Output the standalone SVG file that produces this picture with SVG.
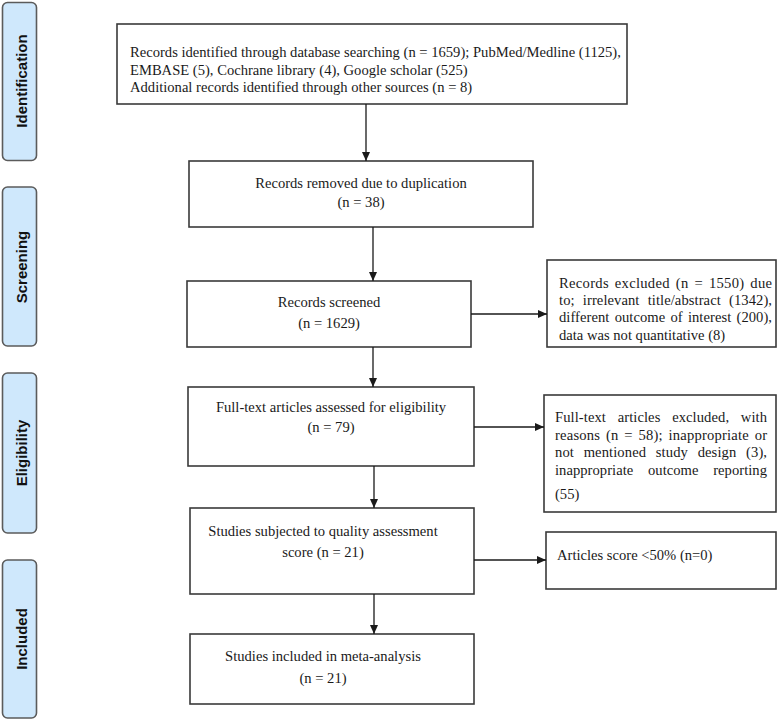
<svg xmlns="http://www.w3.org/2000/svg" width="778" height="722" viewBox="0 0 778 722">
<defs>
<marker id="ah" markerWidth="10" markerHeight="10" refX="9" refY="5" orient="auto" markerUnits="userSpaceOnUse"><path d="M0,1 L9,5 L0,9 Z" fill="#1a1a1a"/></marker>
</defs>
<style>
.tab{fill:#cfe8fc;stroke:#5b5b5b;stroke-width:1.6}
.tabt{font-family:"Liberation Sans",Arial,sans-serif;font-weight:bold;font-size:15px;fill:#111;text-anchor:middle}
.box{fill:#fff;stroke:#3a3a3a;stroke-width:1.6}
.t{font-family:"Liberation Serif","Times New Roman",serif;font-size:14.6px;fill:#1a1a1a}
.c{text-anchor:middle}
.conn line{stroke:#1a1a1a;stroke-width:1.3;marker-end:url(#ah)}
</style>
<rect x="0" y="0" width="778" height="722" fill="#fff"/>

<g id="tab-identification"><rect class="tab" x="2.5" y="2.5" width="34" height="158" rx="5"/><text class="tabt" transform="translate(26.5,81) rotate(-90)">Identification</text></g>
<g id="tab-screening"><rect class="tab" x="2.5" y="187" width="34" height="159" rx="5"/><text class="tabt" transform="translate(26.5,267) rotate(-90)">Screening</text></g>
<g id="tab-eligibility"><rect class="tab" x="2.5" y="373" width="34" height="160" rx="5"/><text class="tabt" transform="translate(26.5,453) rotate(-90)">Eligibility</text></g>
<g id="tab-included"><rect class="tab" x="2.5" y="560" width="34" height="158" rx="5"/><text class="tabt" transform="translate(26.5,639) rotate(-90)">Included</text></g>

<g id="identified"><rect class="box" x="117" y="24" width="510" height="80"/>
<text class="t" x="130" y="57">Records identified through database searching (n = 1659); PubMed/Medline (1125),</text>
<text class="t" x="130" y="75">EMBASE (5), Cochrane library (4), Google scholar (525)</text>
<text class="t" x="130" y="92">Additional records identified through other sources (n = 8)</text></g>

<g id="duplicates"><rect class="box" x="189" y="161" width="344" height="66"/>
<text class="t c" x="361" y="188">Records removed due to duplication</text>
<text class="t c" x="361" y="207">(n = 38)</text></g>

<g id="screened"><rect class="box" x="187" y="281" width="284" height="66"/>
<text class="t c" x="329" y="307">Records screened</text>
<text class="t c" x="329" y="328">(n = 1629)</text></g>

<g id="excluded1"><rect class="box" x="547" y="260" width="229" height="87"/>
<text class="t" x="559" y="288" textLength="213" lengthAdjust="spacing" word-spacing="2">Records excluded (n = 1550) due</text>
<text class="t" x="559" y="305" textLength="213" lengthAdjust="spacing" word-spacing="4.5">to; irrelevant title/abstract (1342),</text>
<text class="t" x="559" y="322" textLength="213" lengthAdjust="spacing" word-spacing="1.5">different outcome of interest (200),</text>
<text class="t" x="559" y="340">data was not quantitative (8)</text></g>

<g id="fulltext"><rect class="box" x="188" y="387" width="286" height="79"/>
<text class="t c" x="331" y="412">Full-text articles assessed for eligibility</text>
<text class="t c" x="331" y="432">(n = 79)</text></g>

<g id="excluded2"><rect class="box" x="544" y="395" width="232" height="117"/>
<text class="t" x="555" y="422" textLength="212" lengthAdjust="spacing" word-spacing="8">Full-text articles excluded, with</text>
<text class="t" x="555" y="439.5" textLength="212" lengthAdjust="spacing" word-spacing="2">reasons (n = 58); inappropriate or</text>
<text class="t" x="555" y="457" textLength="212" lengthAdjust="spacing" word-spacing="6">not mentioned study design (3),</text>
<text class="t" x="555" y="474.5" textLength="212" lengthAdjust="spacing" word-spacing="11">inappropriate outcome reporting</text>
<text class="t" x="555" y="499">(55)</text></g>

<g id="quality"><rect class="box" x="190" y="508" width="284" height="86"/>
<text class="t c" x="323" y="536">Studies subjected to quality assessment</text>
<text class="t c" x="323" y="557">score (n = 21)</text></g>

<g id="lowscore"><rect class="box" x="546" y="532" width="230" height="57"/>
<text class="t" x="557" y="560">Articles score &lt;50% (n=0)</text></g>

<g id="included"><rect class="box" x="190" y="634" width="284" height="70"/>
<text class="t c" x="323" y="661">Studies included in meta-analysis</text>
<text class="t c" x="323" y="683">(n = 21)</text></g>

<g id="connectors" class="conn">
<line x1="366" y1="104" x2="366" y2="161"/>
<line x1="373" y1="227" x2="373" y2="281"/>
<line x1="373" y1="347" x2="373" y2="387"/>
<line x1="374" y1="466" x2="374" y2="508"/>
<line x1="374" y1="594" x2="374" y2="634"/>
<line x1="471" y1="314" x2="547" y2="314"/>
<line x1="474" y1="427" x2="544" y2="427"/>
<line x1="474" y1="560" x2="546" y2="560"/>
</g>
</svg>
